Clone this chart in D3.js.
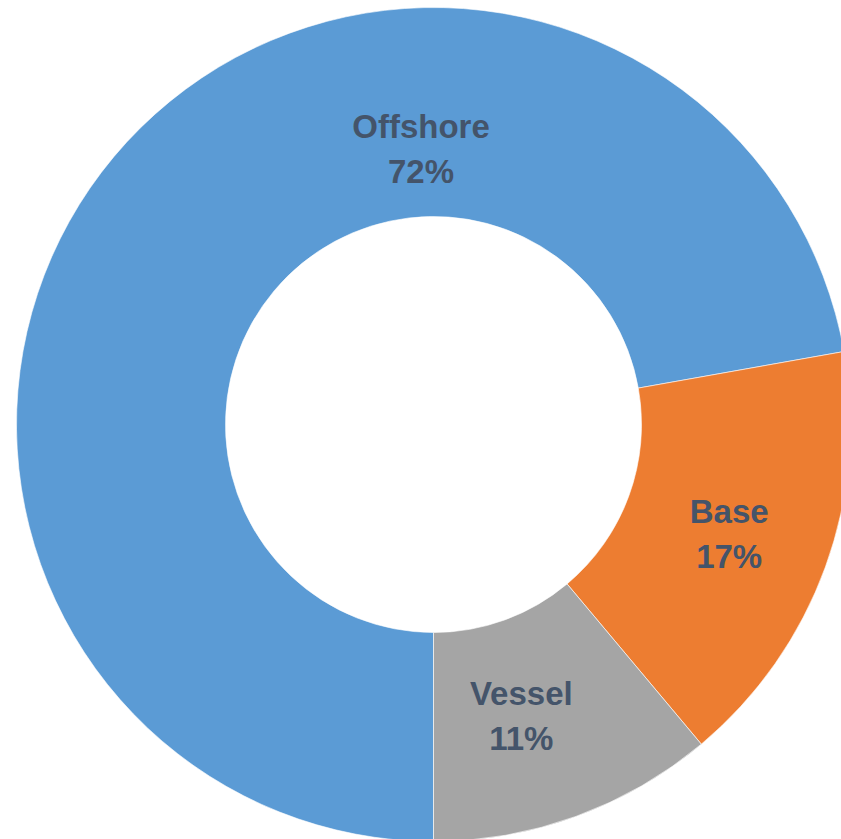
<!DOCTYPE html>
<html>
<head>
<meta charset="utf-8">
<script src="https://cdn.jsdelivr.net/npm/d3@7"></script>
<style>
html,body{margin:0;padding:0;background:#fff;overflow:hidden;}
svg{display:block;}
</style>
</head>
<body>
<svg id="chart" width="841" height="839"></svg>
<script>
const categories = ["Offshore", "Base", "Vessel"];
const values = [72.2, 16.7, 11.1];
const colors = ["#5B9BD5", "#ED7D31", "#A5A5A5"];

const W = 841, H = 839;
const cx = 433.5, cy = 424.5;
const outerR = 417, innerR = 208;

const svg = d3.select("#chart");
const g = svg.append("g").attr("transform", `translate(${cx},${cy})`);

const data = categories.map((c, i) => ({ name: c, value: values[i], color: colors[i] }));

const pie = d3.pie()
  .value(d => d.value)
  .sort(null)
  .startAngle(Math.PI)
  .endAngle(3 * Math.PI);

const arc = d3.arc().innerRadius(innerR).outerRadius(outerR);
const total = d3.sum(values);
const arcs = pie(data);

g.selectAll("path.slice")
  .data(arcs)
  .enter().append("path")
  .attr("class", "slice")
  .attr("d", arc)
  .attr("fill", d => d.data.color)
  .attr("stroke", "#fff")
  .attr("stroke-width", 0.6);

// label placement: Excel-style centroid on the ring; Offshore label was dragged toward the top
const labelArc = d3.arc().innerRadius(innerR).outerRadius(outerR);
function labelPos(d, i) {
  if (i === 0) {
    const a = -0.045, r = 277;
    return [r * Math.sin(a), -r * Math.cos(a)];
  }
  const c = labelArc.centroid(d);
  if (i === 2) return [c[0] - 19, c[1] - 3];
  return [c[0] + 2, c[1] + 2];
}

const lbl = g.selectAll("text.lbl")
  .data(arcs)
  .enter().append("text")
  .attr("class", "lbl")
  .attr("text-anchor", "middle")
  .attr("font-family", "'Liberation Sans', Arial, sans-serif")
  .attr("font-weight", "bold")
  .attr("font-size", 33)
  .attr("fill", "#44546A")
  .attr("transform", (d, i) => { const p = labelPos(d, i); return `translate(${p[0]},${p[1]})`; });

lbl.append("tspan")
  .attr("x", 0).attr("y", -10)
  .text(d => d.data.name);
lbl.append("tspan")
  .attr("x", 0).attr("y", 35)
  .text(d => Math.round(d.data.value / total * 100) + "%");
</script>
</body>
</html>
